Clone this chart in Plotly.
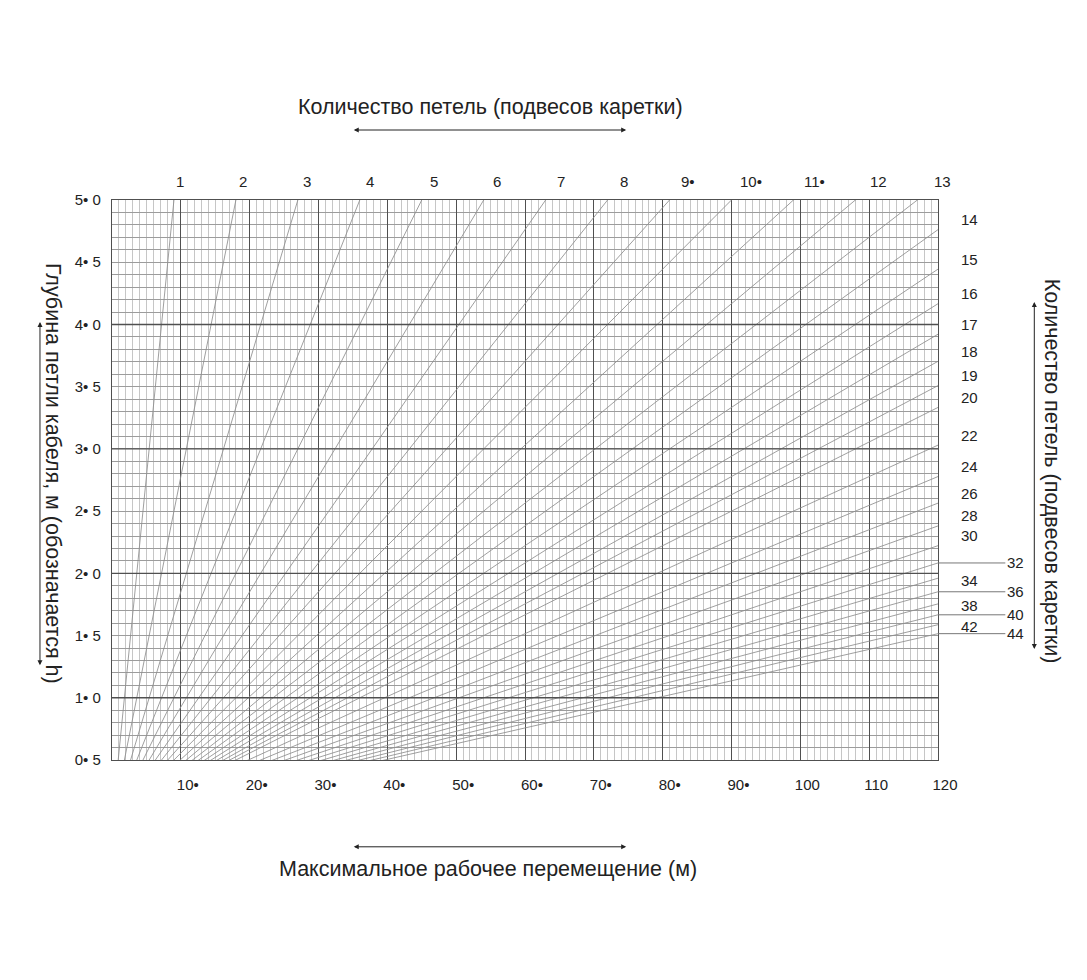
import plotly.graph_objects as go

# loop counts that have a line on the chart
n_loops = list(range(1, 21)) + list(range(22, 45, 2))
# travel (m) per loop per metre of loop depth
K = 1.8
L_max = 120

# labels along the top edge (lines that leave through the top)
top_loops = list(range(1, 14))
top_text = ["1", "2", "3", "4", "5", "6", "7", "8", "9•", "10•", "11•", "12", "13"]
# labels on the right edge
right_loops = [14, 15, 16, 17, 18, 19, 20, 22, 24, 26, 28, 30, 34, 38, 42]
leader_loops = [32, 36, 40, 44]

x_ticks = list(range(0, 121, 10))
x_text = ["", "10•", "20•", "30•", "40•", "50•", "60•", "70•", "80•", "90•", "100", "110", "120"]
y_ticks = [0.5, 1.0, 1.5, 2.0, 2.5, 3.0, 3.5, 4.0, 4.5, 5.0]
y_text = ["0• 5", "1• 0", "1• 5", "2• 0", "2• 5", "3• 0", "3• 5", "4• 0", "4• 5", "5• 0"]
major_h = [1, 2, 3, 4]

FONT = "Liberation Sans, Arial, sans-serif"
MAJOR = "#505050"
TITLE = 21.5

fig = go.Figure()

for n in n_loops:
    fig.add_trace(go.Scatter(x=[0, L_max], y=[0, L_max / (K * n)], mode="lines",
                             line=dict(color="#8e8e8e", width=0.85),
                             hoverinfo="skip", showlegend=False))

# integer depth lines are the heavy ones
for v in major_h:
    fig.add_shape(type="line", xref="paper", x0=0, x1=1, yref="y", y0=v, y1=v,
                  line=dict(color=MAJOR, width=1.4), layer="above")

ann = []
for n, t in zip(top_loops, top_text):
    ann.append(dict(x=L_max * n / 13, y=1, xref="x", yref="paper", text=t,
                    showarrow=False, xanchor="center", yanchor="middle",
                    yshift=19, xshift=4, font=dict(size=15)))

for n in right_loops:
    ann.append(dict(x=1.038, y=L_max / (K * n), xref="paper", yref="y", text=str(n),
                    showarrow=False, xanchor="center", yanchor="middle",
                    yshift=10 if n <= 30 else -2, font=dict(size=15)))

for n in leader_loops:
    h = L_max / (K * n)
    fig.add_shape(type="line", xref="paper", x0=1, x1=1.0815, yref="y", y0=h, y1=h,
                  line=dict(color="#777777", width=1))
    ann.append(dict(x=1.094, y=h, xref="paper", yref="y", text=str(n),
                    showarrow=False, xanchor="center", yanchor="middle", font=dict(size=15)))

# titles
title = dict(showarrow=False, xref="paper", yref="paper", xanchor="center", yanchor="middle",
             font=dict(size=TITLE))
ann.append(dict(title, x=0.458, y=1.166, text="Количество петель (подвесов каретки)"))
ann.append(dict(title, x=0.455, y=-0.195, text="Максимальное рабочее перемещение (м)"))
ann.append(dict(title, x=-0.0715, y=0.511, textangle=90,
                text="Глубина петли кабеля, м (обозначается h)"))
ann.append(dict(title, x=1.1385, y=0.516, textangle=90,
                text="Количество петель (подвесов каретки)"))

# double-headed arrows
arrow = dict(text="", showarrow=True, arrowhead=2, arrowside="end+start",
             arrowsize=1, arrowwidth=1, arrowcolor="#222222")
ann.append(dict(arrow, x=74.7, ax=34.9, xref="x", axref="x", y=1.125, yref="paper", ay=0))
ann.append(dict(arrow, x=74.7, ax=34.9, xref="x", axref="x", y=-0.155, yref="paper", ay=0))
ann.append(dict(arrow, y=4.02, ay=1.25, yref="y", ayref="y", x=-0.0872, xref="paper", ax=0))
ann.append(dict(arrow, y=4.18, ay=1.38, yref="y", ayref="y", x=1.1166, xref="paper", ax=0))

# the page adds an 8px body margin, so the plot box is pulled up/left by that much
fig.update_layout(
    width=1087, height=980,
    margin=dict(l=104, r=157, t=192, b=228),
    paper_bgcolor="white", plot_bgcolor="white",
    font=dict(family=FONT, size=15, color="#222222"),
    annotations=ann,
    showlegend=False,
)
fig.update_xaxes(
    range=[0, L_max], tickmode="array", tickvals=x_ticks, ticktext=x_text,
    showgrid=True, gridcolor=MAJOR, gridwidth=1.4,
    minor=dict(dtick=1, tick0=0, showgrid=True, gridcolor="#c6c6c6", gridwidth=1.4),
    ticks="", ticklabelstandoff=11, ticklabelshift=7,
    showline=True, linecolor=MAJOR, linewidth=1.4, mirror=True, zeroline=False,
)
fig.update_yaxes(
    range=[0.5, 5], tickmode="array", tickvals=y_ticks, ticktext=y_text,
    showgrid=False,
    minor=dict(dtick=0.1, tick0=0, showgrid=True, gridcolor="#9c9c9c", gridwidth=0.8),
    ticks="", ticklabelstandoff=7,
    showline=True, linecolor=MAJOR, linewidth=1.4, mirror=True, zeroline=False,
)

fig.write_html("out.html")
